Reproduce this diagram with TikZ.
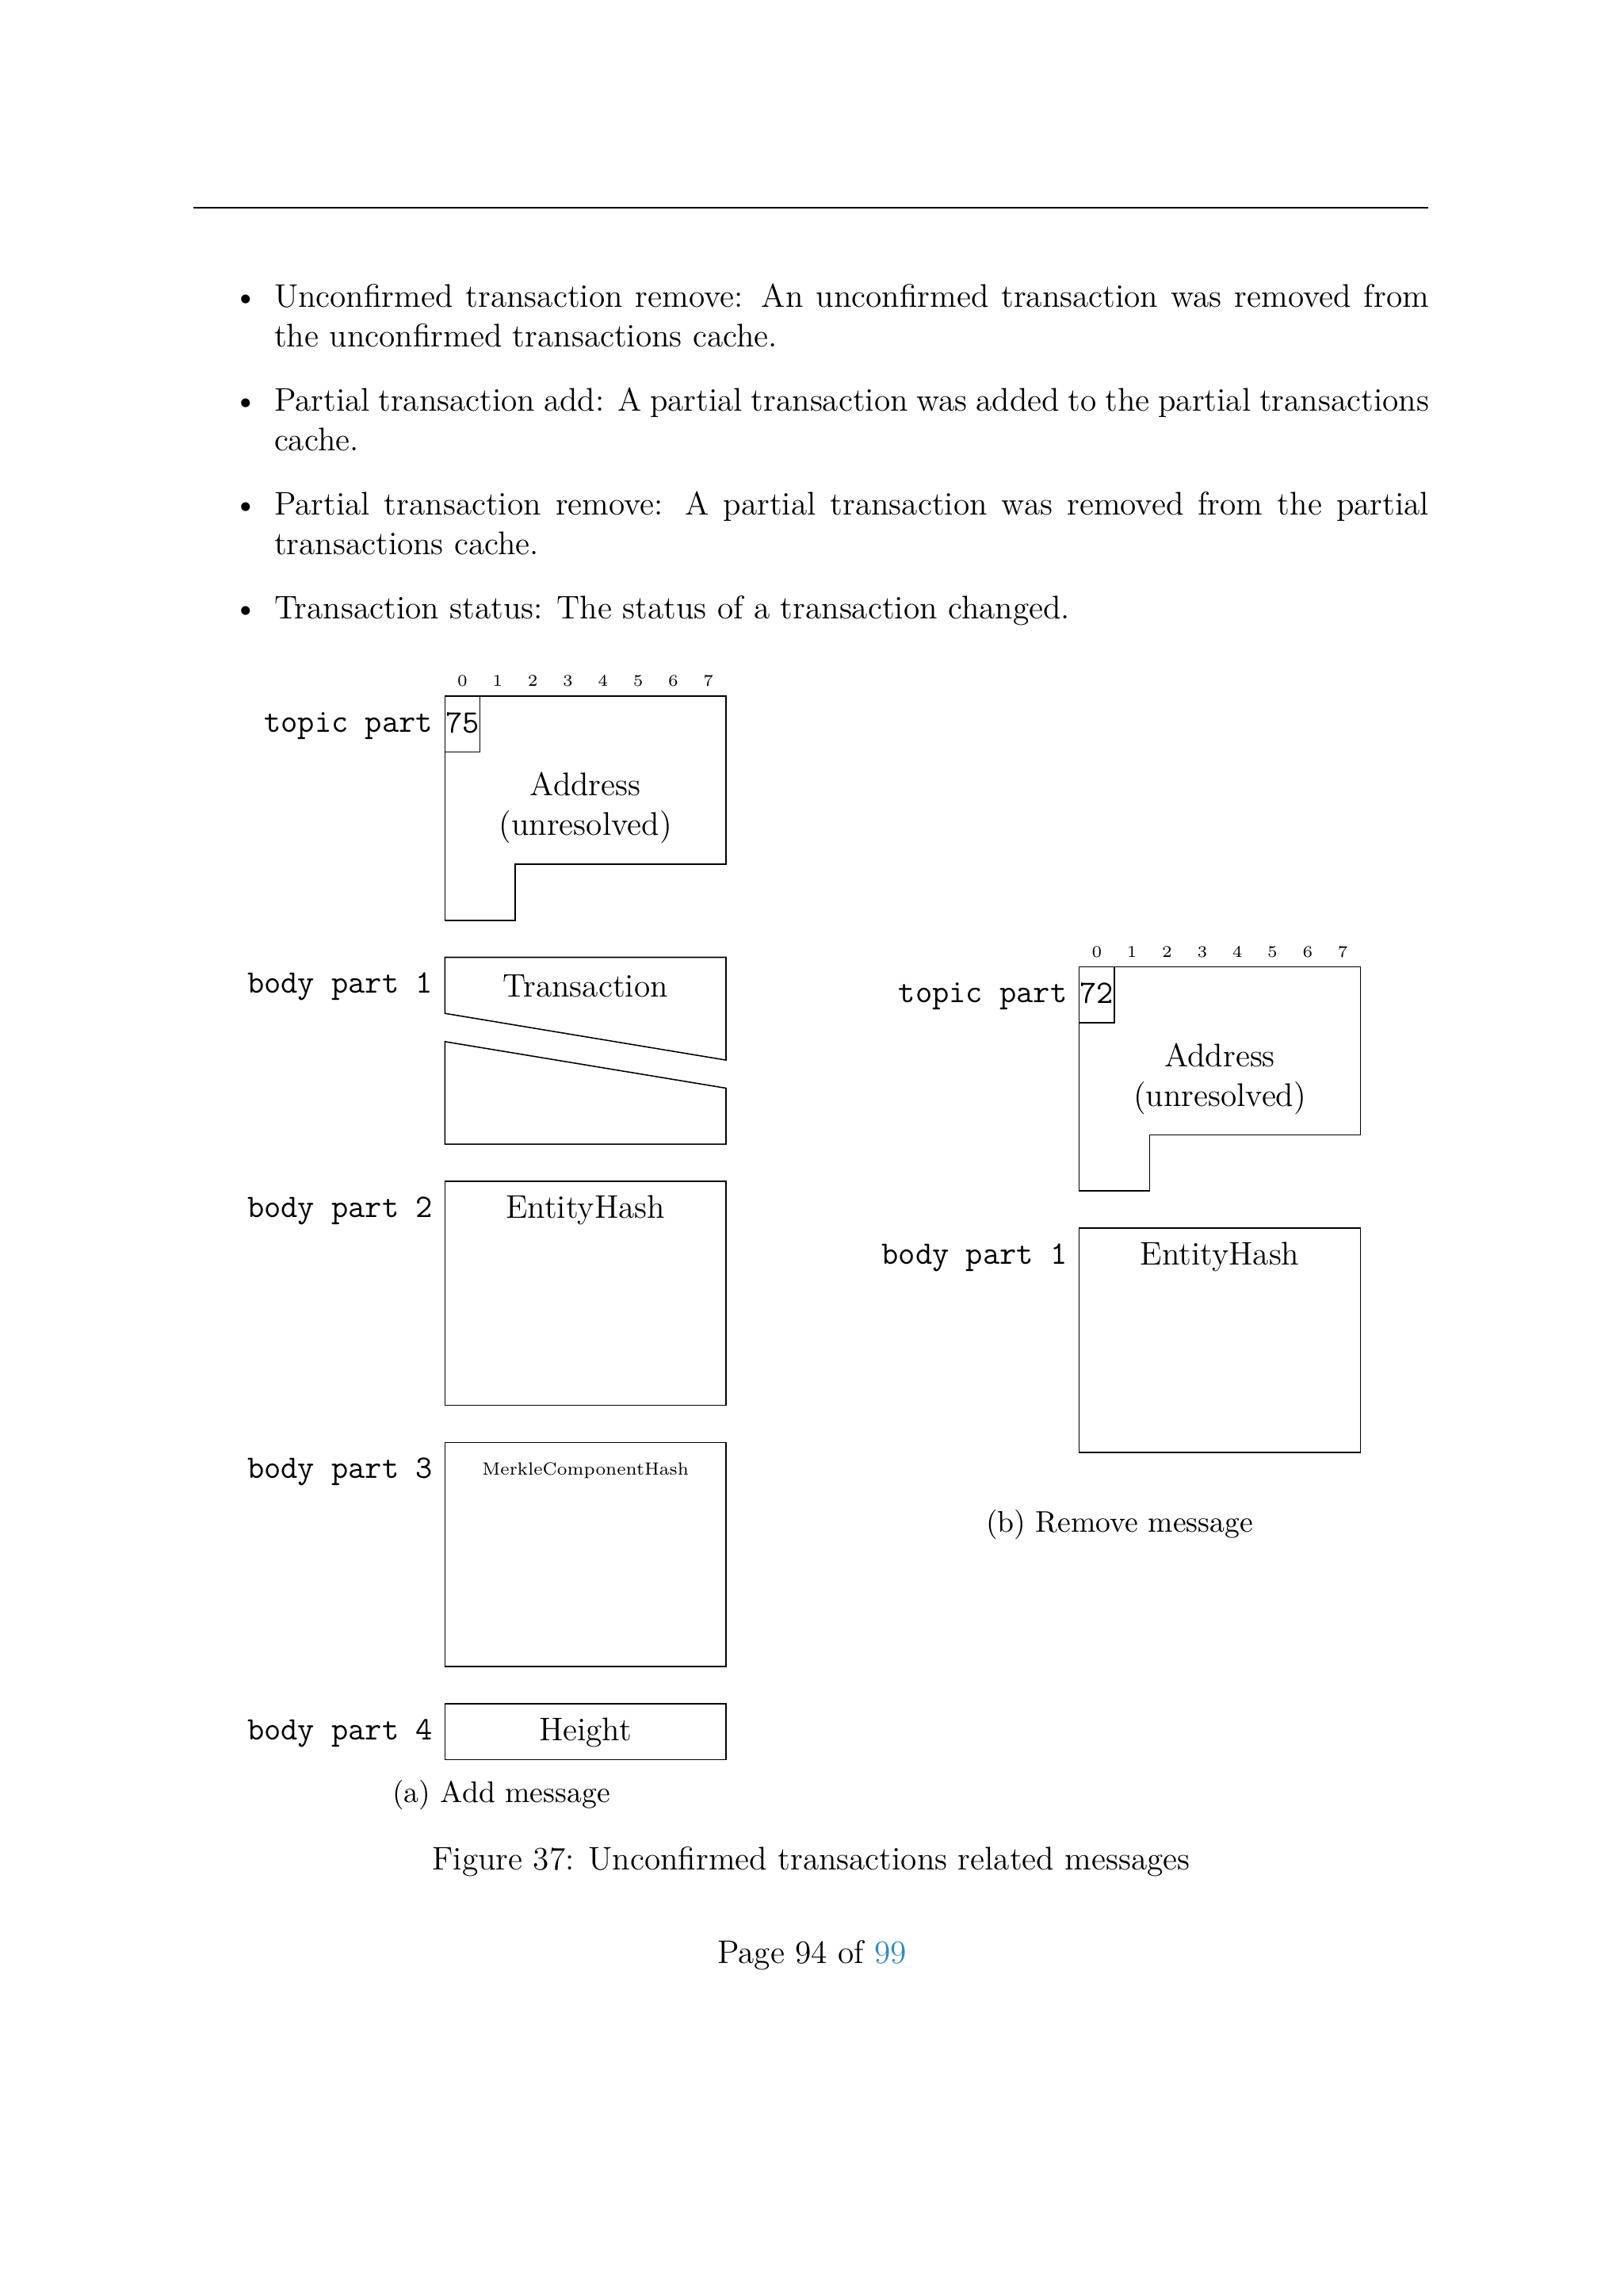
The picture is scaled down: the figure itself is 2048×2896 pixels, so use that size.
\documentclass[tikz,border=0pt]{standalone}
\definecolor{linkblue}{RGB}{48,140,185}
\begin{document}
\begin{tikzpicture}[x=0.290662pt, y=-0.290662pt,
  every node/.style={inner sep=0pt, outer sep=0pt},
  body/.style={font=\fontsize{12}{14.5}\selectfont, anchor=base},
  small/.style={font=\fontsize{10.95}{13.6}\selectfont, anchor=base},
  lbl/.style={font=\fontsize{12}{14.5}\selectfont\ttfamily, anchor=base east},
  code/.style={font=\fontsize{12}{14.5}\selectfont\ttfamily, anchor=base},
  bitnum/.style={font=\fontsize{6}{7}\selectfont, anchor=base},
  tinyt/.style={font=\fontsize{6.5}{7.5}\selectfont, anchor=base},
  fieldline/.style={line width=0.45pt, line join=miter}]
\useasboundingbox (0,0) rectangle (2048,2896);

% header rule
\draw[line width=0.5pt] (243.8,262) -- (1802.4,262);

% bullet list
\node[body, anchor=base east] (u1) at (326.4,387.5) {\textbullet};
\node[body, anchor=base west] (t1a) at (346,387.5) {\hbox to 423.5pt{Unconfirmed transaction remove: An unconfirmed transaction was removed from}};
\node[body, anchor=base west] (t1b) at (346,437.5) {the unconfirmed transactions cache.};
\node[body, anchor=base east] (u2) at (326.4,518.5) {\textbullet};
\node[body, anchor=base west] (t2a) at (346,518.5) {\hbox to 423.5pt{Partial transaction add: A partial transaction was added to the partial transactions}};
\node[body, anchor=base west] (t2b) at (346,568.5) {cache.};
\node[body, anchor=base east] (u3) at (326.4,649.5) {\textbullet};
\node[body, anchor=base west] (t3a) at (346,649.5) {\hbox to 423.5pt{Partial transaction remove: A partial transaction was removed from the partial}};
\node[body, anchor=base west] (t3b) at (346,699.5) {transactions cache.};
\node[body, anchor=base east] (u4) at (326.4,780.5) {\textbullet};
\node[body, anchor=base west] (t4a) at (346,780.5) {Transaction status: The status of a transaction changed.};

% ================= (a) Add message =================
\def\xa{561.3}\def\xb{916}\def\cw{44.33}\def\rh{70.7}
\foreach \i in {0,...,7} \node[bitnum] (abit\i) at ({\xa+(\i+0.5)*\cw},865.5) {\i};
% topic part
\draw[fieldline] (\xa,878) -- (\xb,878) -- (\xb,{878+3*\rh}) -- ({\xa+2*\cw},{878+3*\rh}) -- ({\xa+2*\cw},{878+4*\rh}) -- (\xa,{878+4*\rh}) -- cycle;
\draw[fieldline] (\xa,{878+\rh}) -- ({\xa+\cw},{878+\rh}) -- ({\xa+\cw},878);
\node[lbl] (atopic) at (546,923.5) {topic part};
\node[code] (a75) at ({\xa+0.5*\cw},924) {75};
\node[body] (aaddr1) at (738.65,1003.3) {Address};
\node[body] (aaddr2) at (738.65,1053.3) {(unresolved)};
% body part 1
\draw[fieldline] (\xa,{1207.5+\rh}) -- (\xa,1207.5) -- (\xb,1207.5) -- (\xb,1337.1) -- cycle;
\draw[fieldline] (\xa,1313.8) -- (\xa,1443.2) -- (\xb,1443.2) -- (\xb,1372.5) -- cycle;
\node[lbl] (abp1) at (546,1252.7) {body part 1};
\node[body] (atx) at (738.65,1257.5) {Transaction};
% body part 2
\draw[fieldline] (\xa,1489.8) rectangle (\xb,1772.6);
\node[lbl] (abp2) at (546,1535.3) {body part 2};
\node[body] (aeh) at (738.65,1536) {EntityHash};
% body part 3
\draw[fieldline] (\xa,1819.3) rectangle (\xb,2102.1);
\node[lbl] (abp3) at (546,1864.3) {body part 3};
\node[tinyt] (amch) at (738.65,1860) {MerkleComponentHash};
% body part 4
\draw[fieldline] (\xa,2148.8) rectangle (\xb,2219.5);
\node[lbl] (abp4) at (546,2194.3) {body part 4};
\node[body] (ahgt) at (738.65,2195) {Height};
\node[small] (capa) at (632.5,2273.3) {(a) Add message};

% ================= (b) Remove message =================
\def\xc{1361.7}\def\xd{1716.4}
\foreach \i in {0,...,7} \node[bitnum] (bbit\i) at ({\xc+(\i+0.5)*\cw},1207) {\i};
\draw[fieldline] (\xc,1219.3) -- (\xd,1219.3) -- (\xd,{1219.3+3*\rh}) -- ({\xc+2*\cw},{1219.3+3*\rh}) -- ({\xc+2*\cw},{1219.3+4*\rh}) -- (\xc,{1219.3+4*\rh}) -- cycle;
\draw[fieldline] (\xc,{1219.3+\rh}) -- ({\xc+\cw},{1219.3+\rh}) -- ({\xc+\cw},1219.3);
\node[lbl] (btopic) at (1346.4,1264.8) {topic part};
\node[code] (b72) at ({\xc+0.5*\cw},1265.3) {72};
\node[body] (baddr1) at (1539.05,1345) {Address};
\node[body] (baddr2) at (1539.05,1395) {(unresolved)};
\draw[fieldline] (\xc,1549) rectangle (\xd,1831.8);
\node[lbl] (bbp1) at (1346.4,1594.5) {body part 1};
\node[body] (beh) at (1539.05,1595) {EntityHash};
\node[small] (capb) at (1412.5,1932.7) {(b) Remove message};

% caption and page number
\node[body] (fig) at (1023.5,2358) {Figure 37: Unconfirmed transactions related messages};
\node[body] (page) at (1024.5,2476.7) {Page 94 of \textcolor{linkblue}{99}};
\end{tikzpicture}
\end{document}
